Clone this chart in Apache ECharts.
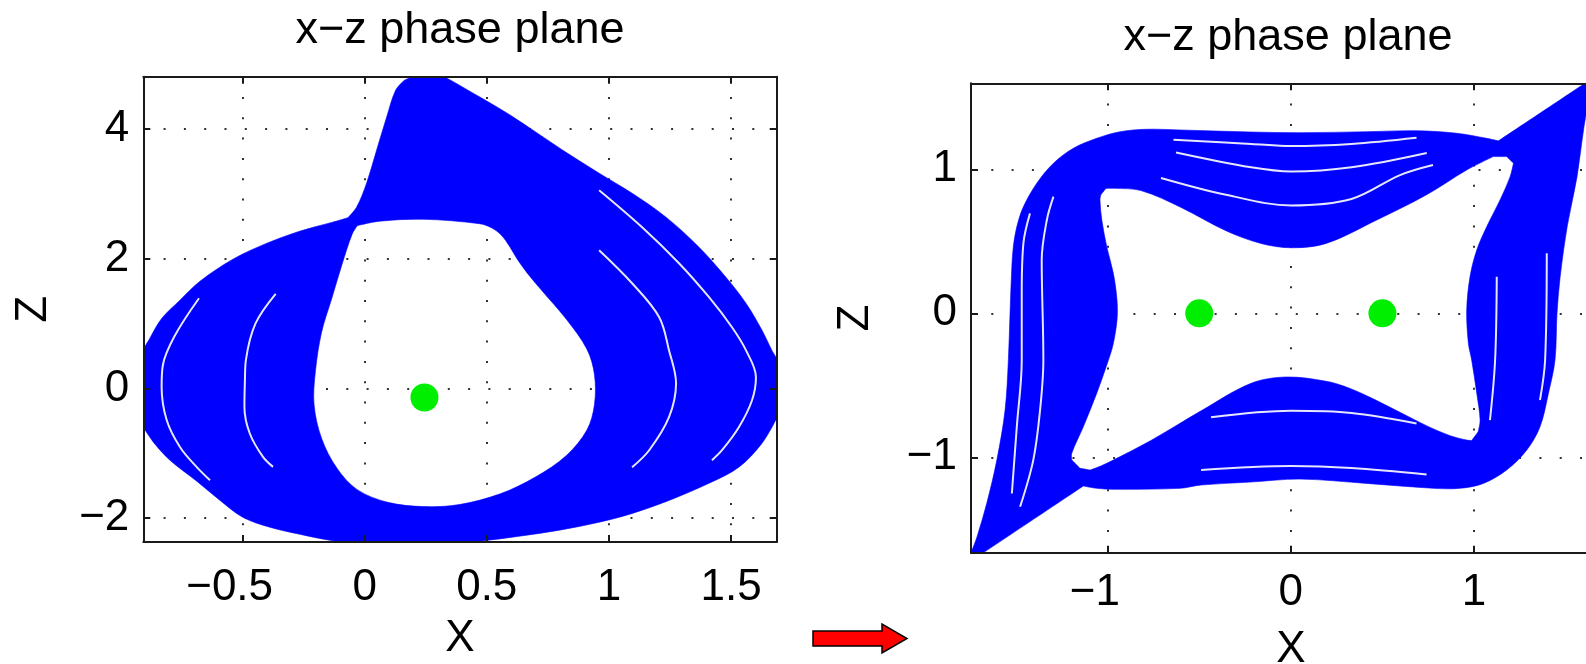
<!DOCTYPE html>
<html><head><meta charset="utf-8">
<script src="https://cdn.jsdelivr.net/npm/echarts@6/dist/echarts.min.js"></script>
<style>html,body{margin:0;padding:0;background:#fff}#c{width:1586px;height:664px}</style>
</head><body><div id="c"></div>
<script>
// ---------- data ----------
const titles = ['x\u2212z phase plane', 'x\u2212z phase plane'];
const axisNames = { x: 'X', z: 'Z' };

const leftXRange = [-0.906, 1.687];
const leftZRange = [-2.37, 4.81];
const leftXTicks = [-0.5, 0, 0.5, 1, 1.5];
const leftZTicks = [-2, 0, 2, 4];

const rightXRange = [-1.746, 1.746];
const rightZRange = [-1.662, 1.597];
const rightXTicks = [-1, 0, 1];
const rightZTicks = [-1, 0, 1];

const leftOuter = [
  [-0.906,-0.599],[-0.906,0.559],[-0.879,0.775],[-0.830,1.083],[-0.756,1.361],[-0.674,1.654],
  [-0.539,1.994],[-0.400,2.241],[-0.266,2.426],[-0.131,2.565],[-0.069,2.634],[-0.033,2.796],
  [0.008,3.167],[0.049,3.676],[0.090,4.185],[0.127,4.602],[0.163,4.756],[0.204,4.81],[0.327,4.81],
  [0.388,4.679],[0.597,4.216],[0.805,3.691],[0.960,3.321],[1.095,3.012],[1.234,2.642],[1.369,2.179],
  [1.479,1.716],[1.561,1.315],[1.627,0.898],[1.667,0.590],[1.687,0.466],[1.687,-0.460],[1.627,-0.846],
  [1.532,-1.216],[1.410,-1.463],[1.238,-1.741],[1.086,-1.941],[0.960,-2.065],[0.797,-2.188],
  [0.633,-2.281],[0.470,-2.358],[0.388,-2.37],[-0.061,-2.37],[-0.143,-2.343],[-0.266,-2.250],
  [-0.388,-2.142],[-0.499,-1.988],[-0.593,-1.725],[-0.687,-1.432],[-0.797,-1.108],[-0.858,-0.861]
];
const leftHole = [
  [-0.030,2.511],[0.061,2.580],[0.242,2.610],[0.470,2.542],[0.519,2.480],[0.560,2.364],[0.593,2.194],
  [0.625,1.994],[0.666,1.778],[0.722,1.525],
  [0.826,1.066],[0.910,0.606],[0.941,0.211],[0.941,-0.248],[0.910,-0.642],[0.826,-1.035],[0.701,-1.364],
  [0.555,-1.627],[0.388,-1.792],[0.242,-1.824],[0.095,-1.758],[-0.030,-1.562],[-0.113,-1.233],
  [-0.176,-0.773],[-0.207,-0.248],[-0.201,0.278],[-0.176,0.869],[-0.134,1.394],[-0.092,1.920],[-0.051,2.380]
];
const leftStreakA = [[-0.678,1.392],[-0.776,0.821],[-0.826,0.358],[-0.831,0.023],[-0.810,-0.491],[-0.756,-0.903],[-0.688,-1.211],[-0.633,-1.417]];
const leftStreakB = [[-0.364,1.460],[-0.447,1.000],[-0.486,0.435],[-0.490,0.127],[-0.492,-0.285],[-0.470,-0.696],[-0.416,-1.057],[-0.375,-1.211]];
const leftStreakC = [[0.960,3.059],[1.136,2.488],[1.287,1.932],[1.410,1.407],[1.504,0.944],[1.561,0.590],[1.602,0.173],[1.586,-0.182],[1.532,-0.599],[1.463,-0.954],[1.422,-1.108]];
const leftStreakD = [[0.960,2.133],[1.095,1.623],[1.206,1.099],[1.246,0.590],[1.275,0.080],[1.246,-0.444],[1.165,-0.954],[1.095,-1.216]];
const leftEquilibria = [[0.245, -0.14]];

const rightOuter = [
  [-1.746,-1.662],[-1.713,-1.551],[-1.660,-1.319],[-1.605,-1.019],[-1.560,-0.672],[-1.542,-0.324],
  [-1.533,0.000],[-1.523,0.324],[-1.515,0.463],[-1.496,0.601],[-1.460,0.740],[-1.387,0.903],
  [-1.296,1.042],[-1.187,1.146],[-1.060,1.215],[-0.932,1.261],[-0.787,1.278],[-0.605,1.273],
  [-0.223,1.259],[0.050,1.254],[0.414,1.261],[0.687,1.268],[0.906,1.250],[1.069,1.215],[1.133,1.197],
  [1.606,1.597],[1.644,1.597],[1.600,1.294],[1.562,0.947],[1.508,0.599],[1.470,0.252],[1.453,0.002],
  [1.442,-0.324],[1.406,-0.556],[1.360,-0.788],[1.288,-0.949],[1.178,-1.088],[1.051,-1.181],
  [0.924,-1.215],[0.778,-1.215],[0.414,-1.181],[0.050,-1.151],[-0.223,-1.172],[-0.490,-1.192],
  [-0.605,-1.215],[-0.969,-1.222],[-1.060,-1.215],[-1.133,-1.199],[-1.678,-1.662]
];
const rightHole = [
  [-1.037,0.823],[-1.010,0.867],[-0.969,0.868],[-0.818,0.852],[-0.599,0.735],[-0.354,0.573],
  [-0.163,0.485],[0.002,0.455],[0.192,0.485],[0.467,0.647],[0.741,0.823],[0.960,0.995],[1.105,1.088],
  [1.178,1.088],[1.215,1.042],[1.197,0.949],[1.142,0.787],[1.069,0.601],[1.015,0.440],[0.978,0.254],
  [0.960,0.023],[0.969,-0.208],[0.987,-0.324],[1.015,-0.556],[1.033,-0.741],[1.022,-0.824],
  [0.987,-0.883],[0.960,-0.880],[0.870,-0.850],[0.740,-0.780],[0.600,-0.690],[0.460,-0.600],
  [0.320,-0.520],[0.194,-0.472],[-0.025,-0.442],[-0.217,-0.486],[-0.490,-0.677],[-0.764,-0.883],
  [-0.969,-1.019],[-1.037,-1.060],[-1.096,-1.088],[-1.151,-1.076],[-1.196,-1.019],[-1.196,-0.972],
  [-1.133,-0.788],[-1.060,-0.556],[-1.005,-0.359],[-0.971,-0.220],[-0.949,-0.047],[-0.949,0.092],
  [-0.969,0.278],[-1.005,0.463],[-1.032,0.648],[-1.042,0.787]
];
const rightStreakA = [[-0.641,1.205],[-0.217,1.176],[0.002,1.161],[0.331,1.176],[0.686,1.219]];
const rightStreakB = [[-0.627,1.117],[-0.217,1.014],[0.002,0.985],[0.331,1.014],[0.742,1.113]];
const rightStreakC = [[-0.709,0.940],[-0.354,0.823],[0.002,0.749],[0.331,0.794],[0.596,0.960],[0.776,1.030]];
const rightStreakD = [[-0.436,-0.722],[0.002,-0.677],[0.331,-0.692],[0.686,-0.765]];
const rightStreakE = [[-0.490,-1.088],[0.002,-1.060],[0.331,-1.074],[0.741,-1.119]];
const rightStreakF = [[-1.424,0.694],[-1.460,0.486],[-1.469,0.139],[-1.469,-0.324],[-1.496,-0.788],[-1.523,-1.251]];
const rightStreakG = [[-1.296,0.810],[-1.332,0.648],[-1.360,0.370],[-1.351,-0.324],[-1.369,-0.672],[-1.406,-1.019],[-1.478,-1.343]];
const rightStreakH = [[1.124,0.254],[1.115,-0.324],[1.087,-0.741]];
const rightStreakI = [[1.397,0.417],[1.388,-0.324],[1.360,-0.602]];
const rightEquilibria = [[-0.5, 0], [0.5, 0]];

// ---------- styling ----------
const FONT = '"Liberation Sans", Arial, Helvetica, sans-serif';
const BLUE = '#0000ff';
const GREEN = '#00ee00';
const MINUS = '\u2212';
// x labels: digits centred on the tick, minus sign hanging to the left
const fmtX = v => v < 0 ? MINUS + String(-v) + '{h|' + MINUS + '}' : String(v);
const fmtY = v => String(v).replace('-', MINUS);

function axisSet(dim, gridIndex, range, ticks, name, nameGap, margin) {
  const isX = dim === 'x';
  const common = { type: 'value', gridIndex: gridIndex, min: range[0], max: range[1] };
  const main = Object.assign({}, common, {
    position: isX ? 'bottom' : 'left', z: 0,
    axisLine: { show: false, onZero: false },
    axisTick: { show: false, customValues: ticks },
    axisLabel: {
      show: true, customValues: ticks, formatter: isX ? fmtX : fmtY,
      fontSize: 44, fontFamily: FONT, color: '#000', margin: margin,
      rich: { h: { fontSize: 44, fontFamily: FONT, color: 'rgba(0,0,0,0)' } }
    },
    splitLine: { show: true, lineStyle: { color: '#333333', width: 2, type: [2, 18.3] } },
    name: name, nameLocation: 'middle', nameGap: nameGap, nameRotate: isX ? 0 : 90,
    nameTextStyle: { fontSize: 44, fontFamily: FONT, color: '#000' }
  });
  const box = pos => Object.assign({}, common, {
    position: pos, z: 6,
    axisLine: { show: true, onZero: false, lineStyle: { color: '#1a1a1a', width: 2 } },
    axisTick: { show: true, inside: true, length: 7, customValues: ticks, lineStyle: { color: '#1a1a1a', width: 2 } },
    axisLabel: { show: false },
    splitLine: { show: false }
  });
  return [main, box(isX ? 'bottom' : 'left'), box(isX ? 'top' : 'right')];
}

// smooth closed outline through the projected vertices (sharp turns kept sharp)
function smoothRing(pts) {
  const n = pts.length;
  const f = p => p[0].toFixed(2) + ',' + p[1].toFixed(2);
  const dirs = pts.map((p, i) => {
    const a = pts[(i - 1 + n) % n], b = pts[(i + 1) % n];
    const ix = p[0] - a[0], iy = p[1] - a[1], ox = b[0] - p[0], oy = b[1] - p[1];
    const li = Math.hypot(ix, iy) || 1, lo = Math.hypot(ox, oy) || 1;
    if ((ix * ox + iy * oy) / (li * lo) < 0.9) return null;
    const dx = b[0] - a[0], dy = b[1] - a[1], l = Math.hypot(dx, dy) || 1;
    return [dx / l, dy / l];
  });
  let d = 'M' + f(pts[0]);
  for (let i = 0; i < n; i++) {
    const p = pts[i], q = pts[(i + 1) % n];
    const L = Math.hypot(q[0] - p[0], q[1] - p[1]) / 3;
    const t0 = dirs[i], t1 = dirs[(i + 1) % n];
    const c1 = t0 ? [p[0] + t0[0] * L, p[1] + t0[1] * L] : p;
    const c2 = t1 ? [q[0] - t1[0] * L, q[1] - t1[1] * L] : q;
    d += 'C' + f(c1) + ' ' + f(c2) + ' ' + f(q);
  }
  return d + 'Z';
}
function ringPath(rings, api) {
  return rings.map((ring, i) => {
    let pts = ring.map(p => api.coord(p));
    if (i > 0) pts = pts.slice().reverse();
    return smoothRing(pts);
  }).join(' ');
}
function bandSeries(rings, axisIdx) {
  return {
    type: 'custom', xAxisIndex: axisIdx, yAxisIndex: axisIdx, clip: true, silent: true, z: 2,
    data: [rings[0][0]],
    renderItem: (params, api) => ({
      type: 'path',
      shape: { pathData: ringPath(rings, api) },
      style: { fill: BLUE, stroke: BLUE, lineWidth: 0.6 }
    })
  };
}
function streakSeries(pts, axisIdx) {
  return {
    type: 'line', xAxisIndex: axisIdx, yAxisIndex: axisIdx, data: pts, smooth: 0.35,
    showSymbol: false, silent: true, z: 3, clip: true,
    lineStyle: { color: '#ffffff', width: 2, opacity: 0.9 }
  };
}
function dotSeries(pts, axisIdx) {
  return {
    type: 'scatter', xAxisIndex: axisIdx, yAxisIndex: axisIdx, data: pts,
    symbolSize: 28, silent: true, z: 4, itemStyle: { color: GREEN, opacity: 1 }
  };
}

const xAxes = [].concat(
  axisSet('x', 0, leftXRange, leftXTicks, axisNames.x, 75, 24),
  axisSet('x', 1, rightXRange, rightXTicks, axisNames.x, 75, 18)
);
const yAxes = [].concat(
  axisSet('y', 0, leftZRange, leftZTicks, axisNames.z, 87, 14),
  axisSet('y', 1, rightZRange, rightZTicks, axisNames.z, 93, 14)
);

const chart = echarts.init(document.getElementById('c'), null, { renderer: 'canvas' });
chart.setOption({
  backgroundColor: '#ffffff',
  animation: false,
  grid: [
    { left: 143.3, top: 76.7, width: 633.4, height: 465.3, containLabel: false, outerBoundsMode: 'none' },
    { left: 971, top: 83.3, width: 639.7, height: 469.4, containLabel: false, outerBoundsMode: 'none' }
  ],
  xAxis: xAxes,
  yAxis: yAxes,
  series: [
    bandSeries([leftOuter, leftHole], 0),
    streakSeries(leftStreakA, 0), streakSeries(leftStreakB, 0),
    streakSeries(leftStreakC, 0), streakSeries(leftStreakD, 0),
    dotSeries(leftEquilibria, 0),
    bandSeries([rightOuter, rightHole], 3),
    streakSeries(rightStreakA, 3), streakSeries(rightStreakB, 3), streakSeries(rightStreakC, 3),
    streakSeries(rightStreakD, 3), streakSeries(rightStreakE, 3), streakSeries(rightStreakF, 3),
    streakSeries(rightStreakG, 3), streakSeries(rightStreakH, 3), streakSeries(rightStreakI, 3),
    dotSeries(rightEquilibria, 3)
  ],
  graphic: [
    { type: 'text', x: 460, y: 31, silent: true,
      style: { text: titles[0], font: '45px ' + FONT, fill: '#000', align: 'center', verticalAlign: 'middle', textAlign: 'center', textVerticalAlign: 'middle' } },
    { type: 'text', x: 1288, y: 38, silent: true,
      style: { text: titles[1], font: '45px ' + FONT, fill: '#000', align: 'center', verticalAlign: 'middle', textAlign: 'center', textVerticalAlign: 'middle' } },
    { type: 'polygon', silent: true,
      shape: { points: [[813,631],[882,631],[882,624],[907,638.5],[882,653],[882,646],[813,646]] },
      style: { fill: '#ff0000', stroke: '#000', lineWidth: 1.5 } }
  ]
});
</script>
</body></html>
